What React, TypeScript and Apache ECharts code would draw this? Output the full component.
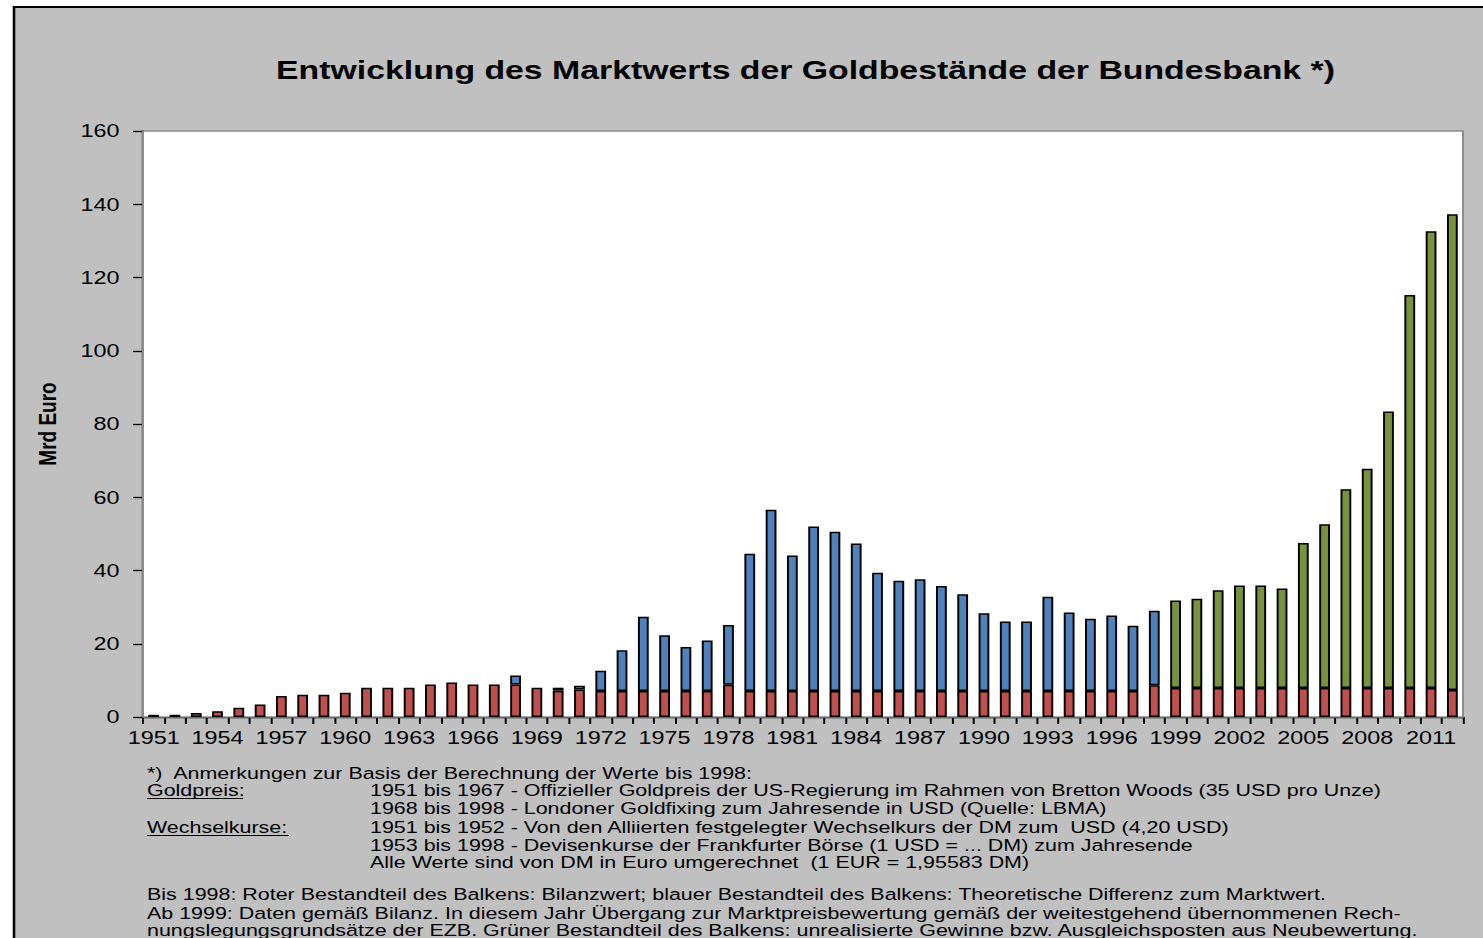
import React, { useEffect, useRef } from "react";
import * as echarts from "echarts";

// ---------- data ----------
const years = [
  "1951", "1952", "1953", "1954", "1955", "1956", "1957", "1958", "1959", "1960",
  "1961", "1962", "1963", "1964", "1965", "1966", "1967", "1968", "1969", "1970",
  "1971", "1972", "1973", "1974", "1975", "1976", "1977", "1978", "1979", "1980",
  "1981", "1982", "1983", "1984", "1985", "1986", "1987", "1988", "1989", "1990",
  "1991", "1992", "1993", "1994", "1995", "1996", "1997", "1998", "1999", "2000",
  "2001", "2002", "2003", "2004", "2005", "2006", "2007", "2008", "2009", "2010",
  "2011", "2012",
];

// red: book value (Bilanzwert), Mrd Euro
const bookValue = [
  0.6, 0.6, 1.1, 1.6, 2.5, 3.4, 5.7, 6.1, 6.1, 6.6,
  8.0, 8.0, 8.0, 8.9, 9.4, 8.9, 8.9, 8.9, 8.0, 7.2,
  7.5, 7.1, 7.1, 7.1, 7.1, 7.1, 7.1, 8.8, 7.1, 7.1,
  7.1, 7.1, 7.1, 7.1, 7.1, 7.1, 7.1, 7.1, 7.1, 7.1,
  7.1, 7.1, 7.1, 7.1, 7.1, 7.1, 7.1, 8.7, 7.9, 7.9,
  7.9, 7.9, 7.9, 7.9, 7.9, 7.9, 7.9, 7.9, 7.9, 7.9,
  7.9, 7.4,
];

// blue: theoretical difference to market value (until 1998)
const marketDifference = [
  null, null, null, null, null, null, null, null, null, null,
  null, null, null, null, null, null, null, 2.4, null, 0.8,
  1.0, 5.5, 11.1, 20.3, 15.2, 12.0, 13.8, 16.3, 37.5, 49.5,
  37.0, 44.9, 43.5, 40.3, 32.3, 30.1, 30.5, 28.7, 26.4, 21.2,
  19.0, 19.0, 25.7, 21.4, 19.7, 20.6, 17.8, 20.3, null, null,
  null, null, null, null, null, null, null, null, null, null,
  null, null,
];

// green: unrealized gains / revaluation account (from 1999)
const unrealizedGains = [
  null, null, null, null, null, null, null, null, null, null,
  null, null, null, null, null, null, null, null, null, null,
  null, null, null, null, null, null, null, null, null, null,
  null, null, null, null, null, null, null, null, null, null,
  null, null, null, null, null, null, null, null, 23.9, 24.4,
  26.7, 28.0, 28.0, 27.2, 39.6, 44.7, 54.3, 59.9, 75.5, 107.3,
  124.7, 129.9,
];

const titleText = "Entwicklung des Marktwerts der Goldbestände der Bundesbank *)";
const yAxisName = "Mrd Euro";

const noteIntro = "*)  Anmerkungen zur Basis der Berechnung der Werte bis 1998:";
const noteLabels = ["Goldpreis:", "Wechselkurse:"];
const noteLines = [
  "1951 bis 1967 - Offizieller Goldpreis der US-Regierung im Rahmen von Bretton Woods (35 USD pro Unze)",
  "1968 bis 1998 - Londoner Goldfixing zum Jahresende in USD (Quelle: LBMA)",
  "1951 bis 1952 - Von den Alliierten festgelegter Wechselkurs der DM zum  USD (4,20 USD)",
  "1953 bis 1998 - Devisenkurse der Frankfurter Börse (1 USD = ... DM) zum Jahresende",
  "Alle Werte sind von DM in Euro umgerechnet  (1 EUR = 1,95583 DM)",
];
const legendNotes = [
  "Bis 1998: Roter Bestandteil des Balkens: Bilanzwert; blauer Bestandteil des Balkens: Theoretische Differenz zum Marktwert.",
  "Ab 1999: Daten gemäß Bilanz. In diesem Jahr Übergang zur Marktpreisbewertung gemäß der weitestgehend übernommenen Rech-",
  "nungslegungsgrundsätze der EZB. Grüner Bestandteil des Balkens: unrealisierte Gewinne bzw. Ausgleichsposten aus Neubewertung.",
];

// ---------- layout ----------
const S = 1.3; // horizontal stretch of the reference picture
const PAGE_W = 1483;
const PAGE_H = 938;
const W = Math.round(PAGE_W / S);
const H = PAGE_H;
const lx = (px: number) => px / S;
const FONT = "'Liberation Sans', Arial, sans-serif";

export default function App() {
  const ref = useRef<HTMLDivElement>(null);

  useEffect(() => {
    if (!ref.current) return;
    const chart = echarts.init(ref.current, undefined, { renderer: "svg" });

    const noteText = (text: string, x: number, y: number) => ({
      type: "text",
      x: lx(x),
      y,
      z: 100,
      style: {
        text,
        fontSize: 16.5,
        fontFamily: FONT,
        fill: "#000",
        verticalAlign: "middle",
        align: "left",
      },
    });

    const noteYs = [790, 808, 827, 845, 862];
    const graphic: any[] = [
      {
        type: "rect",
        z: -10,
        silent: true,
        shape: { x: lx(14), y: 7, width: W + 50, height: H + 50 },
        style: { fill: "#C0C0C0", stroke: "#000", lineWidth: 2 },
      },
      noteText(noteIntro, 147, 773),
      noteText(noteLabels[0], 147, 790),
      noteText(noteLabels[1], 147, 827),
      ...noteLines.map((t, i) => noteText(t, 370, noteYs[i])),
      ...legendNotes.map((t, i) => noteText(t, 147, [894, 913, 930][i])),
      {
        type: "line",
        z: 100,
        shape: { x1: lx(147), y1: 798.5, x2: lx(243), y2: 798.5 },
        style: { stroke: "#000", lineWidth: 1.2 },
      },
      {
        type: "line",
        z: 100,
        shape: { x1: lx(147), y1: 835.5, x2: lx(289), y2: 835.5 },
        style: { stroke: "#000", lineWidth: 1.2 },
      },
    ];

    const barStyle = (color: string) => ({
      color,
      borderColor: "#000",
      borderWidth: 1.5,
    });

    chart.setOption({
      animation: false,
      title: {
        text: titleText,
        left: lx(799),
        textAlign: "center",
        top: 52,
        textStyle: {
          fontFamily: FONT,
          fontWeight: "bold",
          fontSize: 26,
          color: "#000",
        },
      },
      grid: {
        left: lx(143),
        right: W - lx(1463),
        top: 131,
        bottom: H - 717,
        show: true,
        backgroundColor: "#FFFFFF",
        borderColor: "#8C8C8C",
        borderWidth: 1.5,
        z: 1,
      },
      graphic,
      xAxis: {
        type: "category",
        data: years,
        boundaryGap: true,
        axisLine: { lineStyle: { color: "#000", width: 2 } },
        axisTick: {
          show: true,
          interval: 0,
          length: 7,
          lineStyle: { color: "#000", width: 1.5 },
        },
        axisLabel: {
          interval: 2,
          margin: 12,
          fontFamily: FONT,
          fontSize: 18,
          color: "#000",
        },
        splitLine: { show: false },
      },
      yAxis: {
        type: "value",
        min: 0,
        max: 160,
        interval: 20,
        name: yAxisName,
        nameLocation: "middle",
        nameRotate: 90,
        nameGap: 64,
        nameTextStyle: {
          fontFamily: FONT,
          fontWeight: "bold",
          fontSize: 19,
          color: "#000",
        },
        axisLine: { show: true, lineStyle: { color: "#000", width: 1.8 } },
        axisTick: {
          show: true,
          length: lx(10),
          lineStyle: { color: "#000", width: 1.3 },
        },
        axisLabel: {
          margin: 18,
          fontFamily: FONT,
          fontSize: 18,
          color: "#000",
        },
        splitLine: {
          show: true,
          showMaxLine: false,
          lineStyle: { color: "#000", width: 1.4 },
        },
      },
      series: [
        {
          name: "Bilanzwert",
          type: "bar",
          stack: "gold",
          barWidth: 8.3,
          data: bookValue,
          itemStyle: barStyle("#C0504D"),
        },
        {
          name: "Theoretische Differenz zum Marktwert",
          type: "bar",
          stack: "gold",
          barWidth: 8.3,
          data: marketDifference,
          itemStyle: barStyle("#4F81BD"),
        },
        {
          name: "Unrealisierte Gewinne",
          type: "bar",
          stack: "gold",
          barWidth: 8.3,
          data: unrealizedGains,
          itemStyle: barStyle("#77933C"),
        },
      ],
    });

    return () => chart.dispose();
  }, []);

  return (
    <div
      style={{
        position: "absolute",
        left: 0,
        top: 0,
        width: PAGE_W,
        height: PAGE_H,
        overflow: "hidden",
        background: "#fff",
      }}
    >
      <div
        ref={ref}
        style={{
          width: W,
          height: H,
          transform: `scaleX(${S})`,
          transformOrigin: "0 0",
        }}
      />
    </div>
  );
}
